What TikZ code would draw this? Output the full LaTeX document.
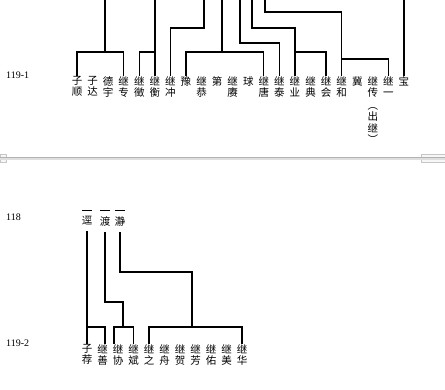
\documentclass[tikz,border=0pt]{standalone}
\usepackage{fontspec}
\setmainfont{Liberation Serif}
\newfontfamily\cjk{Noto Sans CJK SC}
\begin{document}
\begin{tikzpicture}[x=1pt, y=-1pt,
		person/.style={anchor=north, inner sep=0pt, align=center, font=\cjk\fontsize{10.5}{11.5}\selectfont},
		gen/.style={anchor=west, inner sep=0pt, font=\fontsize{10}{12}\selectfont},
		link/.style={line width=1.3pt}]
	\useasboundingbox (0,0) rectangle (445,390);
	
	% Generation 119-1: names
	\node[gen] (g1191) at (6,75) {119-1};
	\foreach \n [count=\i from 0] in {{子\\顺},{子\\达},{德\\宇},{继\\专},{继\\徵},{继\\衡},{继\\冲},{豫},{继\\恭},{第},{继\\赓},{球},{继\\唐},{继\\泰},{继\\业},{继\\典},{继\\会},{继\\和},{冀},{继\\传\\[1pt]︵\\出\\继\\︶},{继\\一},{宝}} {
		\node[person] (n\i) at (77+15.57*\i, 76) {\n};
	}
	
	% Lines coming down from the page above
	\coordinate (pA) at (105,0);
	\coordinate (jA) at (105,52);
	\draw[link] (pA) -- (jA);
	\draw[link] (n0.north) |- (jA) -| (n3.north);
	
	\draw[link] (n5.north |- pA) -- (n5.north);
	\draw[link] (n4.north) |- (n5.north |- jA);
	
	\coordinate (pC) at (204,0);
	\coordinate (kC) at (204,28);
	\draw[link] (pC) -- (kC) -| (n6.north);
	
	\coordinate (pD) at (222,0);
	\coordinate (jD) at (222,52);
	\draw[link] (pD) -- (jD);
	\draw[link] (n7.north) |- (jD) -| (n12.north);
	
	\coordinate (pE) at (240,0);
	\coordinate (kE) at (240,43);
	\draw[link] (pE) -- (kE) -| (n13.north);
	
	\coordinate (pF) at (252,0);
	\coordinate (kF) at (252,28);
	\draw[link] (pF) -- (kF) -| (n14.north);
	\draw[link] (n14.north |- jA) -| (n16.north);
	
	\coordinate (pG) at (265,0);
	\coordinate (kG) at (265,12);
	\coordinate (yG) at (0,59);
	\draw[link] (pG) -- (kG) -| (n17.north);
	\draw[link] (n17.north |- yG) -| (n20.north);
	
	\draw[link] (n21.north |- pA) -- (n21.north);
	
	% Page break
	\draw[gray!45, fill=gray!6] (0,154) rectangle (6,162);
	\draw[gray!45, fill=gray!6] (421,154) rectangle (445,162);
	\draw[gray!25, line width=2.5pt] (0,158.5) -- (445,158.5);
	\draw[gray!60, line width=1pt] (0,158) -- (445,158);
	
	% Generation 118
	\node[gen] (g118) at (6,217) {118};
	\node[person] (f0) at (87,216) {逕};
	\node[person] (f1) at (105,216) {渡};
	\node[person] (f2) at (120,216) {瀞};
	\foreach \f in {f0,f1,f2} {
		\draw[thin] ([shift={(-5pt,6pt)}]\f.north) -- ([shift={(5pt,6pt)}]\f.north);
	}
	
	% Generation 119-2: names
	\node[gen] (g1192) at (6,343) {119-2};
	\foreach \n [count=\i from 0] in {{子\\荐},{继\\善},{继\\协},{继\\斌},{继\\之},{继\\舟},{继\\贺},{继\\芳},{继\\佑},{继\\美},{继\\华}} {
		\node[person] (m\i) at (87+15.5*\i, 344) {\n};
	}
	
	% Lines from 118 to 119-2
	\coordinate (yB) at (0,327);
	\draw[link] ([yshift=-6pt]f0.south) -- (m0.north);
	\draw[link] (m0.north |- yB) -| ([xshift=2.5pt]m1.north);
	
	\coordinate (kQ) at (105,302);
	\coordinate (jQ) at (123,327);
	\draw[link] ([yshift=-6pt]f1.south) -- (kQ) -| (jQ);
	\draw[link] ([xshift=-4pt]m2.north) |- (jQ) -| (m3.north);
	
	\coordinate (kR) at (120,272);
	\coordinate (jR) at (192,327);
	\draw[link] ([yshift=-6pt]f2.south) -- (kR) -| (jR);
	\draw[link] (m4.north) |- (jR) -| (m10.north);
\end{tikzpicture}
\end{document}
